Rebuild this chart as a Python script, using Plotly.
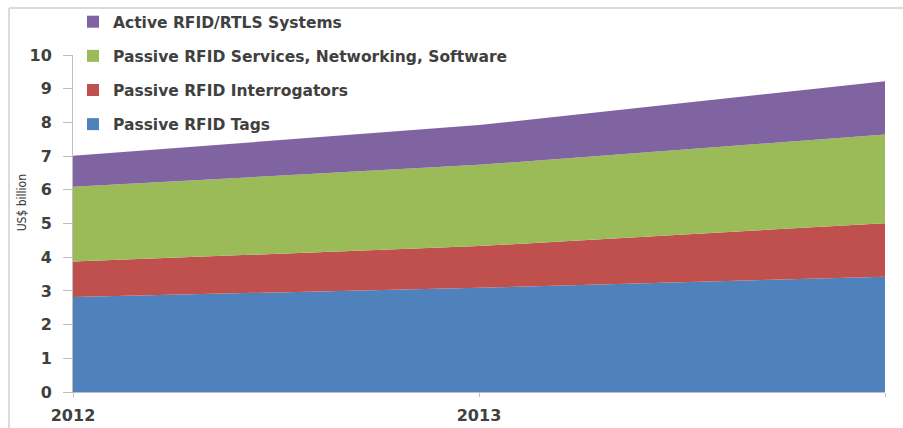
import plotly.graph_objects as go

years = [2012, 2013, 2014]
tags = [2.82, 3.09, 3.42]
interrogators = [1.05, 1.24, 1.59]
services = [2.22, 2.41, 2.63]
active = [0.92, 1.18, 1.58]

series = [
    ("Passive RFID Tags", tags, "#4F81BD"),
    ("Passive RFID Interrogators", interrogators, "#C0504D"),
    ("Passive RFID Services, Networking, Software", services, "#9BBB59"),
    ("Active RFID/RTLS Systems", active, "#8064A2"),
]

fig = go.Figure()
for name, vals, col in series:
    fig.add_trace(go.Scatter(
        x=years, y=vals, name=name, stackgroup="one", mode="none",
        fillcolor=col, showlegend=False, hoverinfo="x+y+name"))
for i, (name, vals, col) in enumerate(series):
    fig.add_trace(go.Scatter(
        x=[None], y=[None], name=name, mode="markers",
        marker=dict(symbol="square", size=9, color=col),
        legendgroup="g%d" % i, legendrank=1000 - i, showlegend=True))

fig.update_layout(
    width=903, height=428,
    margin=dict(l=73, r=18, t=55, b=36, autoexpand=False),
    paper_bgcolor="white", plot_bgcolor="white",
    font=dict(family="DejaVu Sans", size=14, color="#404040"),
    showlegend=True,
    legend=dict(
        x=0.0, y=1.148, xanchor="left", yanchor="top",
        traceorder="grouped", tracegroupgap=11,
        bgcolor="rgba(0,0,0,0)",
        font=dict(family="DejaVu Sans", size=15.5, color="#404040", weight="bold"),
        itemsizing="constant",
    ),
    xaxis=dict(
        range=[2012, 2014], tickvals=years, ticktext=[str(y) for y in years],
        showgrid=False, zeroline=False, showline=True, linecolor="#BFBFBF",
        ticks="outside", ticklen=4, tickcolor="#BFBFBF",
        ticklabelstandoff=5, automargin=False,
        tickfont=dict(family="DejaVu Sans", size=16, color="#404040", weight="bold"),
    ),
    yaxis=dict(
        range=[0, 10], dtick=1, showgrid=False, zeroline=False,
        showline=True, linecolor="#BFBFBF",
        ticks="outside", ticklen=9, tickcolor="#BFBFBF",
        ticklabelstandoff=8, automargin=False,
        tickfont=dict(family="DejaVu Sans", size=16, color="#404040", weight="bold"),
    ),
    annotations=[dict(
        text="US$ billion", xref="paper", yref="paper",
        x=-0.0628, y=0.56, xanchor="center", yanchor="middle",
        textangle=-90, showarrow=False,
        font=dict(family="Liberation Sans Narrow, DejaVu Sans Condensed, Liberation Sans",
                  size=12, color="#333333"),
    )],
    shapes=[
        dict(type="line", xref="paper", yref="paper",
             x0=-0.0788, x1=1.03, y0=1.1395, y1=1.1395,
             line=dict(color="#D0D0D0", width=1.5)),
        dict(type="line", xref="paper", yref="paper",
             x0=-0.0788, x1=-0.0788, y0=1.1395, y1=-0.12,
             line=dict(color="#D0D0D0", width=1.5)),
    ],
)

fig.write_html("out.html")
